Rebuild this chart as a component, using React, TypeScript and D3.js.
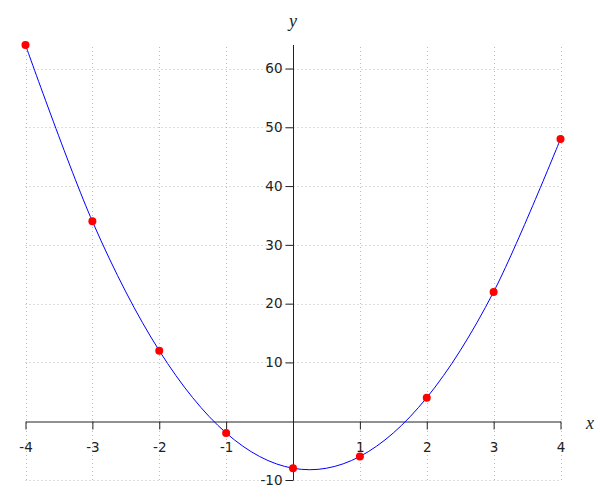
import { useRef, useEffect } from "react";
import * as d3 from "d3";

const xValues = [-4, -3, -2, -1, 0, 1, 2, 3, 4];
const yValues = [64, 34, 12, -2, -8, -6, 4, 22, 48];
const xTicks = [-4, -3, -2, -1, 1, 2, 3, 4];
const yTicks = [-10, 10, 20, 30, 40, 50, 60];

const W = 600;
const H = 500;

export default function App() {
  const svgRef = useRef<SVGSVGElement>(null);

  useEffect(() => {
    if (!svgRef.current) return;
    const svg = d3.select(svgRef.current);
    svg.selectAll("*").remove();

    const x = d3.scaleLinear().domain([-4, 4]).range([25.5, 560.5]);
    const y = d3.scaleLinear().domain([-10, 60]).range([480, 68.5]);
    const yTop = y(64);

    const data = xValues.map((v, i) => ({ x: v, y: yValues[i] }));

    // dotted grid
    const grid = svg.append("g").attr("stroke", "#bbbbbb").attr("stroke-width", 1).attr("stroke-dasharray", "1,3");
    xTicks.forEach((t) => {
      grid.append("line")
        .attr("x1", Math.round(x(t)) + 0.5).attr("x2", Math.round(x(t)) + 0.5)
        .attr("y1", yTop + 2).attr("y2", y(-10));
    });
    yTicks.forEach((t) => {
      grid.append("line")
        .attr("x1", x(-4)).attr("x2", x(4))
        .attr("y1", Math.round(y(t)) + 0.5).attr("y2", Math.round(y(t)) + 0.5);
    });

    // axes through origin
    const xAxis = svg.append("g")
      .attr("transform", `translate(0,${Math.round(y(0)) + 0.5})`)
      .call(d3.axisBottom(x).tickValues(xTicks).tickSize(8).tickSizeOuter(0).tickPadding(13).tickFormat((d) => `${d}`));
    xAxis.select(".domain").attr("stroke", "#222");
    xAxis.selectAll("line").attr("stroke", "#222");
    xAxis.selectAll("text").attr("fill", "#222").style("font-size", "13.5px").style("font-family", "DejaVu Sans");

    const yAxis = svg.append("g")
      .attr("transform", `translate(${Math.round(x(0)) + 0.5},0)`)
      .call(d3.axisLeft(y).tickValues(yTicks).tickSize(8).tickSizeOuter(0).tickPadding(3).tickFormat((d) => `${d}`));
    yAxis.select(".domain").remove();
    yAxis.append("line")
      .attr("x1", 0).attr("x2", 0)
      .attr("y1", yTop).attr("y2", y(-10))
      .attr("stroke", "#222");
    yAxis.selectAll("line").attr("stroke", "#222");
    yAxis.selectAll("text").attr("fill", "#222").style("font-size", "13.5px").style("font-family", "DejaVu Sans");

    // axis names
    svg.append("text")
      .attr("x", x(0)).attr("y", 27)
      .attr("text-anchor", "middle")
      .style("font-family", "Liberation Serif").style("font-style", "italic").style("font-size", "18px")
      .attr("fill", "#222").text("y");
    svg.append("text")
      .attr("x", 590).attr("y", 429)
      .attr("text-anchor", "middle")
      .style("font-family", "Liberation Serif").style("font-style", "italic").style("font-size", "18px")
      .attr("fill", "#222").text("x");

    // curve
    const line = d3.line<{ x: number; y: number }>()
      .x((d) => x(d.x))
      .y((d) => y(d.y))
      .curve(d3.curveCardinal.tension(0));
    svg.append("path")
      .datum(data)
      .attr("fill", "none")
      .attr("stroke", "#0000ff")
      .attr("stroke-width", 1)
      .attr("d", line);

    // points
    svg.selectAll("circle.pt")
      .data(data)
      .join("circle")
      .attr("class", "pt")
      .attr("cx", (d) => x(d.x))
      .attr("cy", (d) => y(d.y))
      .attr("r", 4)
      .attr("fill", "#ff0000");
  }, []);

  return (
    <svg
      ref={svgRef}
      width={W}
      height={H}
      style={{ position: "absolute", left: 0, top: 0, background: "#fff" }}
    />
  );
}
